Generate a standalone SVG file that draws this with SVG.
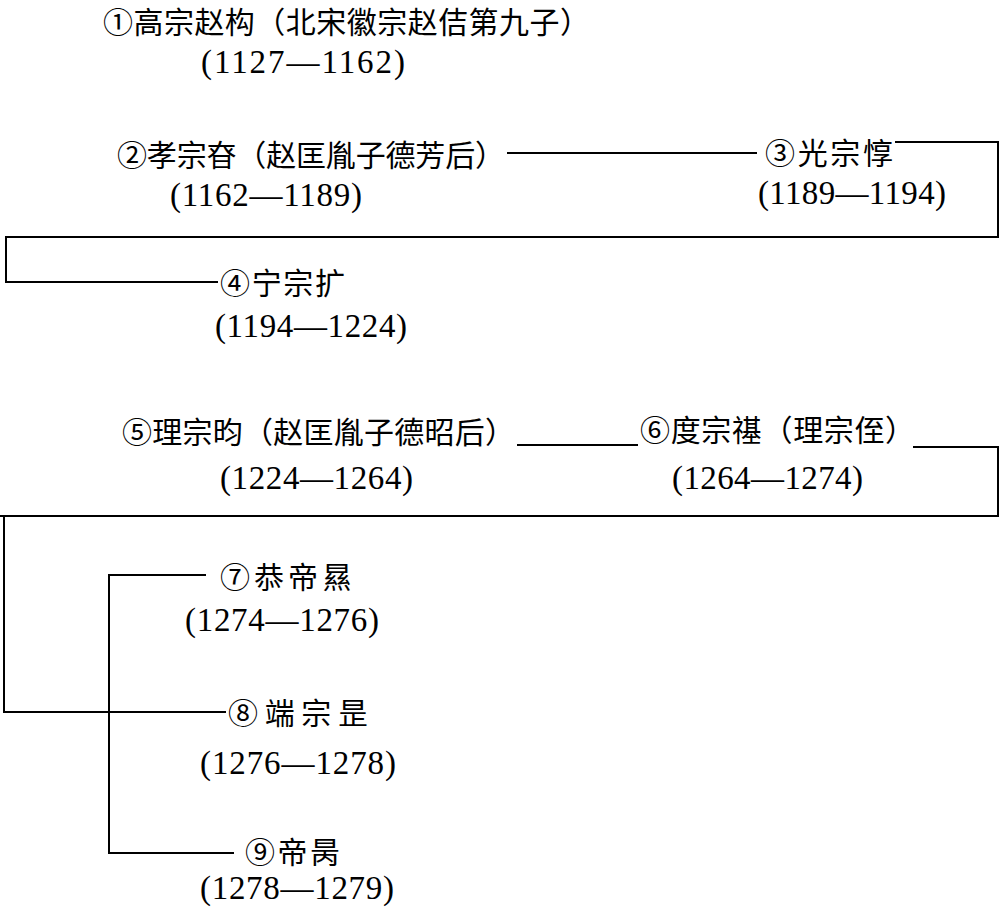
<svg xmlns="http://www.w3.org/2000/svg" width="1000" height="907" viewBox="0 0 1000 907">
<style>
.n{font-family:"Noto Sans CJK SC","Noto Sans CJK TC",sans-serif;font-size:30px;fill:#000}
.d{font-family:"Liberation Serif","Noto Sans CJK SC",serif;font-size:33px;fill:#000}
.c{fill:none;stroke:#000;stroke-width:2}
</style>
<rect width="1000" height="907" fill="#fff"/>
<g id="connectors">
<path class="c" d="M507 153 H757"/>
<path class="c" d="M895 142 H998 V237 H6 V282 H218"/>
<path class="c" d="M517 445 H638"/>
<path class="c" d="M913 447 H998 V516 H0"/>
<path class="c" d="M4 516 V712 H226"/>
<path class="c" d="M206 575 H109 V853 H234"/>
</g>
<g id="n1"><text class="n" x="103" y="33" textLength="487" lengthAdjust="spacing">①高宗赵构（北宋徽宗赵佶第九子）</text><text class="d" x="201" y="73" textLength="204" lengthAdjust="spacing">(1127—1162)</text></g>
<g id="n2"><text class="n" x="117" y="166" textLength="388" lengthAdjust="spacing">②孝宗昚（赵匡胤子德芳后）</text><text class="d" x="170" y="206" textLength="192" lengthAdjust="spacing">(1162—1189)</text></g>
<g id="n3"><text class="n" x="765" y="164" textLength="128" lengthAdjust="spacing">③光宗惇</text><text class="d" x="758" y="204" textLength="188" lengthAdjust="spacing">(1189—1194)</text></g>
<g id="n4"><text class="n" x="220" y="294" textLength="125" lengthAdjust="spacing">④宁宗扩</text><text class="d" x="215" y="337" textLength="192" lengthAdjust="spacing">(1194—1224)</text></g>
<g id="n5"><text class="n" x="122" y="443" textLength="393" lengthAdjust="spacing">⑤理宗昀（赵匡胤子德昭后）</text><text class="d" x="220" y="489" textLength="193" lengthAdjust="spacing">(1224—1264)</text></g>
<g id="n6"><text class="n" x="640" y="441" textLength="275" lengthAdjust="spacing">⑥度宗禥（理宗侄）</text><text class="d" x="672" y="489" textLength="191" lengthAdjust="spacing">(1264—1274)</text></g>
<g id="n7"><text class="n" x="220" y="588" textLength="132" lengthAdjust="spacing">⑦恭帝㬎</text><text class="d" x="185" y="631" textLength="194" lengthAdjust="spacing">(1274—1276)</text></g>
<g id="n8"><text class="n" x="228" y="724" textLength="140" lengthAdjust="spacing">⑧端宗昰</text><text class="d" x="200" y="774" textLength="196" lengthAdjust="spacing">(1276—1278)</text></g>
<g id="n9"><text class="n" x="245" y="863" textLength="95" lengthAdjust="spacing">⑨帝昺</text><text class="d" x="200" y="899" textLength="194" lengthAdjust="spacing">(1278—1279)</text></g>
</svg>
